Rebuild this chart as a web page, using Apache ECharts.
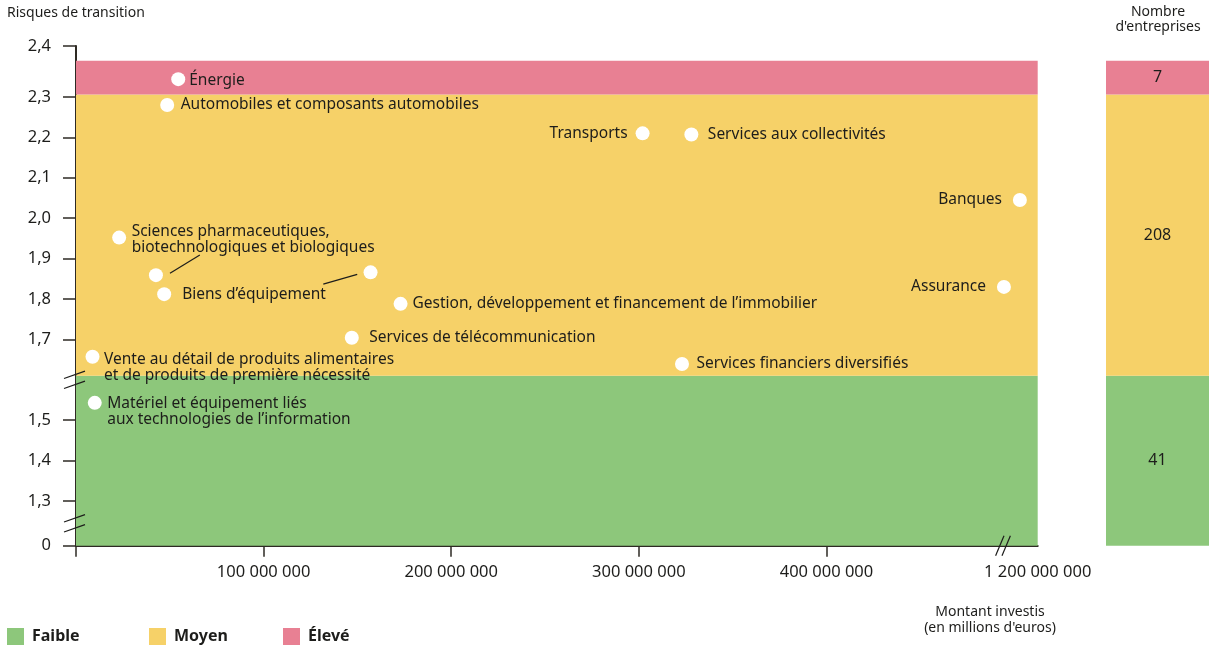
<!DOCTYPE html>
<html><head><meta charset="utf-8">
<script src="https://cdn.jsdelivr.net/npm/echarts@6/dist/echarts.min.js"></script>
<style>html,body{margin:0;padding:0;background:#fff}#c{width:1209px;height:650px}</style>
</head><body><div id="c"></div>
<script>
// ---------- DATA ----------
const sectors = [
  'Énergie',
  'Automobiles et composants automobiles',
  'Transports',
  'Services aux collectivités',
  'Banques',
  'Sciences pharmaceutiques,\nbiotechnologiques et biologiques',
  '',
  'Biens d’équipement',
  '',
  'Gestion, développement et financement de l’immobilier',
  'Services de télécommunication',
  'Services financiers diversifiés',
  'Assurance',
  'Vente au détail de produits alimentaires\net de produits de première nécessité',
  'Matériel et équipement liés\naux technologies de l’information'
];
const montantInvesti = [54.5e6, 48.6e6, 302e6, 328e6, 1105e6, 23e6, 42.6e6, 47e6, 157e6, 173e6, 147e6, 323e6, 1020e6, 8.8e6, 10e6];
const risqueTransition = [2.335, 2.28, 2.21, 2.207, 2.045, 1.952, 1.859, 1.812, 1.866, 1.788, 1.704, 1.639, 1.83, 1.657, 1.543];

const bandNames = ['Faible', 'Moyen', 'Élevé'];
const bandLimits = [0, 1.61, 2.305, 2.371];
const nombreEntreprises = [41, 208, 7];

const yTicks = [0, 1.3, 1.4, 1.5, 1.7, 1.8, 1.9, 2.0, 2.1, 2.2, 2.3, 2.4];
const xTicks = [100e6, 200e6, 300e6, 400e6, 1200e6];

// leader lines (data units): [x1, y1, x2, y2]
const leaderLines = [
  [50.1e6, 1.864, 66.0e6, 1.909],
  [131.8e6, 1.837, 149.9e6, 1.861]
];

// ---------- STYLE / LAYOUT ----------
const FONT = 'Noto Sans';
const TXT = '#1d1d1b';
const bandColors = ['#8DC77B', '#F6D168', '#E88093'];

// broken-axis transforms
const Y_ZERO = 1.1894, Y_K = 1.262;
function fy(v) {
  if (v > 2.3) return 2.3 + (v - 2.3) * Y_K;
  if (v < 1.3) return Y_ZERO; // everything below the break collapses onto 0
  return v;
}
const X_RIGHT = 512.6e6, X_S = 0.1;
function fx(v) { return v <= 500e6 ? v : X_RIGHT - (1200e6 - v) * X_S; }
const Y_BREAKS = [1.6, (Y_ZERO + 1.3) / 2];
const X_BREAK = 1015e6;

const labelLayout = {
  'Énergie': ['right', 4, 1],
  'Automobiles et composants automobiles': ['right', 6.5, 0],
  'Transports': ['left', 8, 0],
  'Services aux collectivités': ['right', 9.5, 0],
  'Banques': ['left', 11, 0],
  'Sciences pharmaceutiques,\nbiotechnologiques et biologiques': ['right', 5.5, 2],
  'Biens d’équipement': ['right', 11, 0],
  'Gestion, développement et financement de l’immobilier': ['right', 5, 0],
  'Services de télécommunication': ['right', 10.5, 0],
  'Services financiers diversifiés': ['right', 7.5, 0],
  'Assurance': ['left', 11, 0],
  'Vente au détail de produits alimentaires\net de produits de première nécessité': ['right', 4.5, 11],
  'Matériel et équipement liés\naux technologies de l’information': ['right', 5.5, 9]
};

function fmtY(v) { return v === 0 ? '0' : v.toFixed(1).replace('.', ','); }
function fmtX(v) { return String(Math.round(v)).replace(/\B(?=(\d{3})+(?!\d))/g, ' '); }

const points = sectors.map((name, i) => {
  const d = { name: name, value: [fx(montantInvesti[i]), fy(risqueTransition[i])] };
  const l = labelLayout[name];
  if (l) d.label = { show: true, position: l[0], distance: l[1], offset: [0, l[2]] };
  else d.label = { show: false };
  return d;
});

const yMin = fy(0), yMax = fy(2.4);
const xMax = fx(1200e6);

const bandSeries = bandNames.map((n, i) => ({
  name: n, type: 'scatter', data: [], xAxisIndex: 0, yAxisIndex: 0, z: 1,
  itemStyle: { color: bandColors[i], opacity: 1 },
  markArea: {
    silent: true, itemStyle: { color: bandColors[i], opacity: 1 },
    data: [[{ yAxis: fy(bandLimits[i]) }, { yAxis: fy(bandLimits[i + 1]) }]]
  }
}));

const sideSeries = {
  type: 'scatter', data: [], xAxisIndex: 1, yAxisIndex: 1, silent: true,
  markArea: {
    silent: true,
    label: { show: true, position: 'inside', fontFamily: FONT, fontSize: 16, color: TXT },
    data: bandNames.map((n, i) => [
      { yAxis: fy(bandLimits[i]), name: String(nombreEntreprises[i]), itemStyle: { color: bandColors[i], opacity: 1 } },
      { yAxis: fy(bandLimits[i + 1]) }
    ])
  }
};

const chart = echarts.init(document.getElementById('c'), null, { renderer: 'canvas' });
const texts = [
  { type: 'text', x: 7, y: 13, style: { text: 'Risques de transition', font: '14px "' + FONT + '"', fill: TXT, textVerticalAlign: 'middle' } },
  { type: 'text', x: 1158, y: 20, style: { text: 'Nombre\nd\'entreprises', font: '14px "' + FONT + '"', fill: TXT, textAlign: 'center', textVerticalAlign: 'middle', lineHeight: 15 } },
  { type: 'text', x: 990, y: 620, style: { text: 'Montant investis\n(en millions d\'euros)', font: '14px "' + FONT + '"', fill: TXT, textAlign: 'center', textVerticalAlign: 'middle', lineHeight: 16 } }
];

const axisColor = '#2e2a24';
chart.setOption({
  animation: false,
  textStyle: { fontFamily: FONT },
  legend: bandNames.map((n, i) => ({
    data: [n], left: [7, 149, 283][i], top: 628, itemWidth: 17, itemHeight: 17, icon: 'rect',
    selectedMode: false, padding: 0, itemGap: 0,
    itemStyle: { opacity: 1 },
    textStyle: { fontFamily: FONT, fontSize: 16, fontWeight: 'bold', color: TXT, padding: [0, 0, 0, 3] }
  })),
  grid: [
    { left: 76, right: 171.3, top: 46, bottom: 104.3 },
    { left: 1106, right: 0, top: 46, bottom: 104.3 }
  ],
  xAxis: [
    {
      type: 'value', gridIndex: 0, min: 0, max: xMax,
      axisLine: { show: true, lineStyle: { color: axisColor, width: 2 } },
      axisTick: { show: true, length: 11, customValues: [0, 100e6, 200e6, 300e6, 400e6].map(fx), lineStyle: { color: axisColor, width: 1.5 } },
      axisLabel: {
        customValues: xTicks.map(fx), margin: 18, fontFamily: FONT, fontSize: 16.5, color: TXT,
        formatter: v => { const t = xTicks.find(t => Math.abs(fx(t) - v) < 1e3); return t ? fmtX(t) : ''; }
      },
      splitLine: { show: false }
    },
    { type: 'value', gridIndex: 1, min: 0, max: 1, show: false }
  ],
  yAxis: [
    {
      type: 'value', gridIndex: 0, min: yMin, max: yMax,
      axisLine: { show: true, lineStyle: { color: axisColor, width: 2 } },
      axisTick: { show: true, length: 13, customValues: yTicks.map(fy), lineStyle: { color: axisColor, width: 1.5 } },
      axisLabel: {
        customValues: yTicks.map(fy), margin: 25, fontFamily: FONT, fontSize: 16.5, color: TXT,
        formatter: v => { const t = yTicks.find(t => Math.abs(fy(t) - v) < 1e-6); return t !== undefined ? fmtY(t) : ''; }
      },
      splitLine: { show: false }
    },
    { type: 'value', gridIndex: 1, min: yMin, max: yMax, show: false }
  ],
  series: bandSeries.concat([sideSeries, {
    name: 'Secteurs', type: 'scatter', xAxisIndex: 0, yAxisIndex: 0, z: 5,
    symbol: 'circle', symbolSize: 14,
    itemStyle: { color: '#ffffff', opacity: 1 },
    label: { color: TXT, fontFamily: FONT, fontSize: 15.5, lineHeight: 16, formatter: p => p.name },
    data: points,
    markLine: {
      silent: true, symbol: 'none', animation: false,
      lineStyle: { color: TXT, width: 1.2, type: 'solid' },
      label: { show: false },
      data: leaderLines.map(l => [{ coord: [fx(l[0]), fy(l[1])] }, { coord: [fx(l[2]), fy(l[3])] }])
    }
  }]),
  graphic: texts
});

// axis break marks, positioned through the axes
const breaks = [];
Y_BREAKS.forEach(v => {
  const p = chart.convertToPixel({ gridIndex: 0 }, [0, v]);
  [-5, 5].forEach(dy => breaks.push({
    type: 'line', z: 100,
    shape: { x1: p[0] - 12, y1: p[1] + dy + 3.7, x2: p[0] + 9, y2: p[1] + dy - 3.7 },
    style: { stroke: TXT, lineWidth: 1.2 }
  }));
});
{
  const p = chart.convertToPixel({ gridIndex: 0 }, [fx(X_BREAK), yMin]);
  [-3.2, 3.2].forEach(dx => breaks.push({
    type: 'line', z: 100,
    shape: { x1: p[0] + dx - 4.2, y1: p[1] + 10, x2: p[0] + dx + 4.2, y2: p[1] - 10 },
    style: { stroke: TXT, lineWidth: 1.2 }
  }));
}
chart.setOption({ graphic: texts.concat(breaks) });
</script>
</body></html>
